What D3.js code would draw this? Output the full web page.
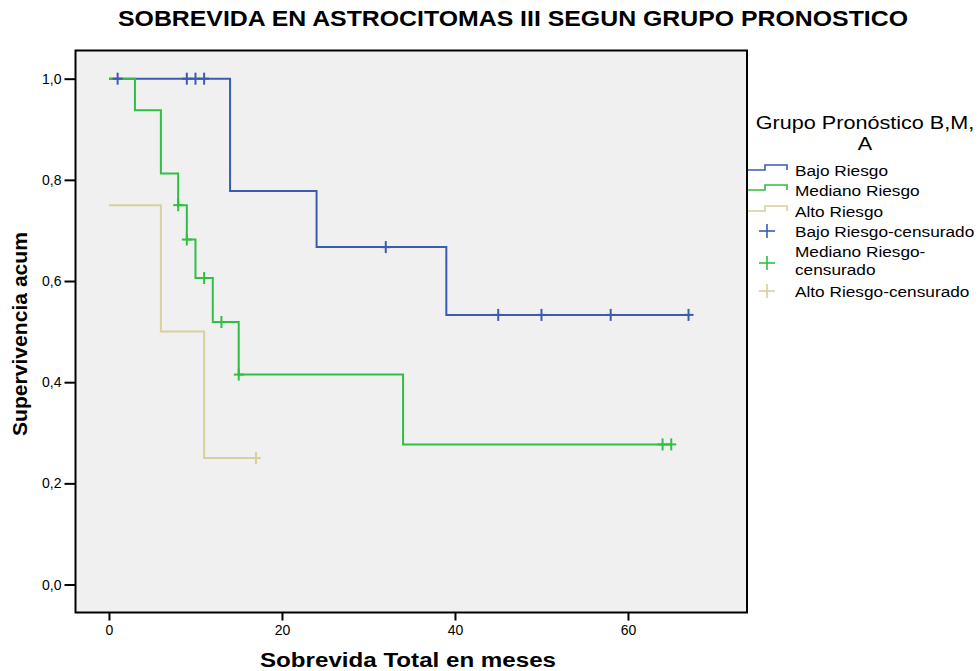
<!DOCTYPE html>
<html>
<head>
<meta charset="utf-8">
<script src="https://cdn.jsdelivr.net/npm/d3@7"></script>
<style>
  html, body { margin: 0; padding: 0; background: #ffffff; }
  svg { display: block; font-family: "Liberation Sans", Arial, Helvetica, sans-serif; }
</style>
</head>
<body>
<svg id="chart" width="978" height="671"></svg>
<script>
// Kaplan–Meier estimates per prognostic group: event times (months) and cumulative survival
const bajoTimes   = [0, 14, 24, 39, 67];
const bajoSurv    = [1.0, 0.778, 0.667, 0.533, 0.533];
const bajoCens    = [1, 9, 10, 11, 32, 45, 50, 58, 67];

const medianoTimes = [0, 3, 6, 8, 9, 10, 12, 15, 34, 65];
const medianoSurv  = [1.0, 0.9375, 0.8125, 0.75, 0.682, 0.606, 0.519, 0.415, 0.277, 0.277];
const medianoCens  = [8, 9, 11, 13, 15, 64, 65];

const altoTimes = [0, 6, 11, 17];
const altoSurv  = [0.75, 0.5, 0.25, 0.25];
const altoCens  = [17];

const xTicks = [0, 20, 40, 60];
const yTicks = [0, 0.2, 0.4, 0.6, 0.8, 1.0];

const groupNames = ["Bajo Riesgo", "Mediano Riesgo", "Alto Riesgo"];
const censorNames = [["Bajo Riesgo-censurado"], ["Mediano Riesgo-", "censurado"], ["Alto Riesgo-censurado"]];
const colors = ["#3b5bb3", "#2fbf43", "#d8d09c"];

const groups = [
  { times: bajoTimes, surv: bajoSurv, cens: bajoCens },
  { times: medianoTimes, surv: medianoSurv, cens: medianoCens },
  { times: altoTimes, surv: altoSurv, cens: altoCens }
];

const svg = d3.select("#chart");
const plot = { left: 75.5, right: 747, top: 50.5, bottom: 612.5 };

const x = d3.scaleLinear().domain([-3.87, 73.76]).range([plot.left, plot.right]);
const y = d3.scaleLinear().domain([-0.0553, 1.0557]).range([plot.bottom, plot.top]);

// Title
svg.append("text")
  .attr("x", 513).attr("y", 26)
  .attr("text-anchor", "middle")
  .attr("font-weight", "bold").attr("font-size", 22)
  .attr("textLength", 790).attr("lengthAdjust", "spacingAndGlyphs")
  .text("SOBREVIDA EN ASTROCITOMAS III SEGUN GRUPO PRONOSTICO");

// Plot background and frame
svg.append("rect")
  .attr("x", plot.left).attr("y", plot.top)
  .attr("width", plot.right - plot.left).attr("height", plot.bottom - plot.top)
  .attr("fill", "#f0f0f0").attr("stroke", "#000").attr("stroke-width", 2);

// Axes
const xAxis = d3.axisBottom(x).tickValues(xTicks).tickSize(8).tickPadding(5)
  .tickFormat(d3.format("d"));
const gx = svg.append("g").attr("transform", `translate(0,${plot.bottom})`).call(xAxis);
gx.select(".domain").remove();
gx.selectAll(".tick line").attr("stroke", "#000").attr("stroke-width", 2);
gx.selectAll(".tick text").attr("font-size", 14).attr("fill", "#000")
  .attr("font-family", "\"Liberation Sans\", Arial, sans-serif");

const yAxis = d3.axisLeft(y).tickValues(yTicks).tickSize(11).tickPadding(3)
  .tickFormat(d => d3.format(".1f")(d).replace(".", ","));
const gy = svg.append("g").attr("transform", `translate(${plot.left},0)`).call(yAxis);
gy.select(".domain").remove();
gy.selectAll(".tick line").attr("stroke", "#000").attr("stroke-width", 2);
gy.selectAll(".tick text").attr("font-size", 14).attr("fill", "#000")
  .attr("font-family", "\"Liberation Sans\", Arial, sans-serif");

// Axis titles
svg.append("text")
  .attr("x", 408).attr("y", 667)
  .attr("text-anchor", "middle")
  .attr("font-weight", "bold").attr("font-size", 20)
  .attr("textLength", 296).attr("lengthAdjust", "spacingAndGlyphs")
  .text("Sobrevida Total en meses");

svg.append("text")
  .attr("transform", "translate(27,334) rotate(-90)")
  .attr("text-anchor", "middle")
  .attr("font-weight", "bold").attr("font-size", 20)
  .attr("textLength", 204).attr("lengthAdjust", "spacingAndGlyphs")
  .text("Supervivencia acum");

// Survival curves
const line = d3.line().x(d => x(d[0])).y(d => y(d[1])).curve(d3.curveStepAfter);
const survAt = (g, t) => {
  let s = g.surv[0];
  g.times.forEach((tt, i) => { if (tt <= t) s = g.surv[i]; });
  return s;
};

groups.forEach((g, i) => {
  const pts = g.times.map((t, k) => [t, g.surv[k]]);
  svg.append("path")
    .attr("d", line(pts))
    .attr("fill", "none").attr("stroke", colors[i]).attr("stroke-width", 2);
});

// Censored observations
groups.forEach((g, i) => {
  const marks = svg.append("g").attr("stroke", colors[i]).attr("stroke-width", 2);
  g.cens.forEach(t => {
    const cx = x(t), cy = y(survAt(g, t));
    marks.append("line").attr("x1", cx - 5).attr("x2", cx + 5).attr("y1", cy).attr("y2", cy);
    marks.append("line").attr("x1", cx).attr("x2", cx).attr("y1", cy - 6).attr("y2", cy + 6);
  });
});

// Legend (labels drawn slightly widened)
const legend = svg.append("g");
const legendText = (tx, ty, str, size, sx, anchor) =>
  legend.append("text")
    .attr("transform", `translate(${tx},${ty}) scale(${sx},1)`)
    .attr("font-size", size)
    .attr("text-anchor", anchor || "start")
    .text(str);

legendText(865, 128.5, "Grupo Pronóstico B,M,", 18, 1.2, "middle");
legendText(865, 149.5, "A", 18, 1.2, "middle");

const lineRows = [170, 190, 211];
groupNames.forEach((name, i) => {
  const yy = lineRows[i];
  legend.append("path")
    .attr("d", `M748,${yy} H765 V${yy - 5} H787 V${yy}`)
    .attr("fill", "none").attr("stroke", colors[i]).attr("stroke-width", 1.6);
  legendText(795, yy + 6, name, 15, 1.15);
});

const censRows = [231, 263, 291];
censorNames.forEach((lines, i) => {
  const yy = censRows[i];
  const cx = 767;
  legend.append("line").attr("x1", cx - 8).attr("x2", cx + 8).attr("y1", yy).attr("y2", yy)
    .attr("stroke", colors[i]).attr("stroke-width", 1.6);
  legend.append("line").attr("x1", cx).attr("x2", cx).attr("y1", yy - 7).attr("y2", yy + 7)
    .attr("stroke", colors[i]).attr("stroke-width", 1.6);
  if (lines.length === 1) {
    legendText(795, yy + 6, lines[0], 15, 1.15);
  } else {
    legendText(795, yy - 6, lines[0], 15, 1.15);
    legendText(795, yy + 12, lines[1], 15, 1.15);
  }
});
</script>
</body>
</html>
